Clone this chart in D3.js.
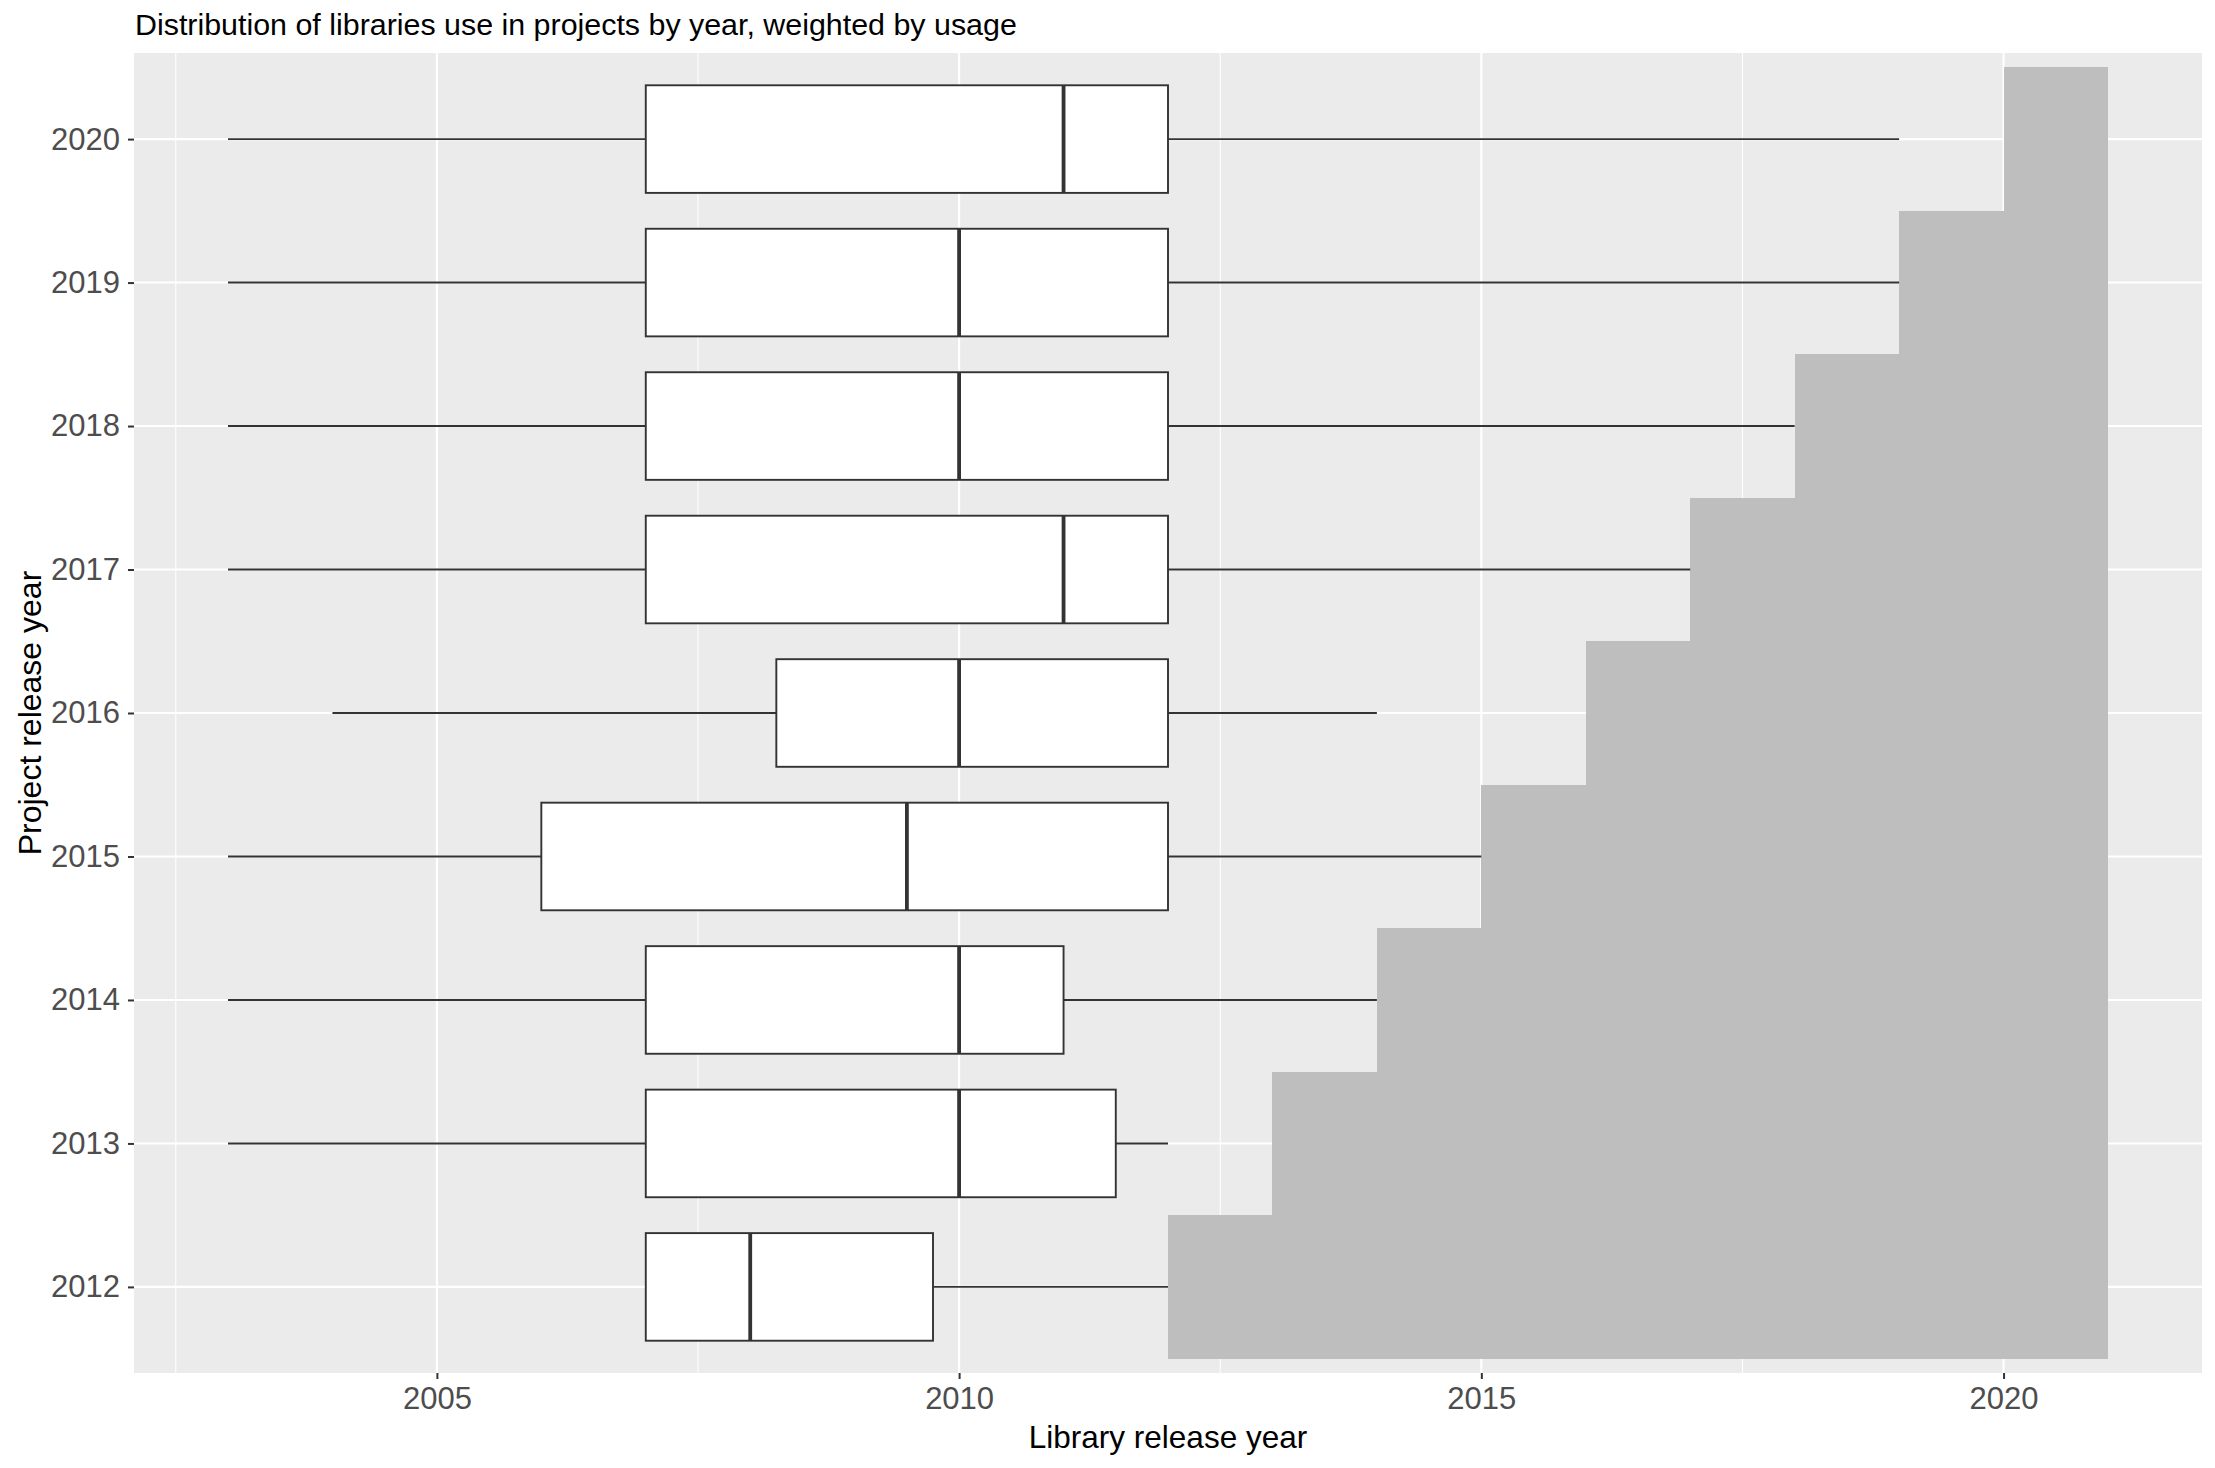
<!DOCTYPE html>
<html>
<head>
<meta charset="utf-8">
<script src="https://cdn.jsdelivr.net/npm/d3@7"></script>
<style>
  html, body { margin: 0; padding: 0; background: #ffffff; }
  svg { display: block; font-family: "Liberation Sans", Arial, sans-serif; }
</style>
</head>
<body>
<svg id="chart" width="2215" height="1468"></svg>
<script>
// ---- Data ----
const projectYears = [2012, 2013, 2014, 2015, 2016, 2017, 2018, 2019, 2020];
const whiskerLow   = [2007, 2003, 2003, 2003, 2004, 2003, 2003, 2003, 2003];
const q1           = [2007, 2007, 2007, 2006, 2008.25, 2007, 2007, 2007, 2007];
const medians      = [2008, 2010, 2010, 2009.5, 2010, 2011, 2010, 2010, 2011];
const q3           = [2009.75, 2011.5, 2011, 2012, 2012, 2012, 2012, 2012, 2012];
const whiskerHigh  = [2012, 2012, 2014, 2015, 2014, 2017, 2018, 2019, 2019];

// Grey "future" region: one step per project year
const stepX0  = [2012, 2013, 2014, 2015, 2016, 2017, 2018, 2019, 2020];
const stepX1  = [2013, 2014, 2015, 2016, 2017, 2018, 2019, 2020, 2021];
const stepTop = [2012.5, 2013.5, 2014.5, 2015.5, 2016.5, 2017.5, 2018.5, 2019.5, 2020.5];
const stepBottom = 2011.5;

const xMajorTicks = [2005, 2010, 2015, 2020];
const xMinorTicks = [2002.5, 2007.5, 2012.5, 2017.5];

const titleText = "Distribution of libraries use in projects by year, weighted by usage";
const xTitle = "Library release year";
const yTitle = "Project release year";

// ---- Layout ----
const panel = { left: 134, right: 2202, top: 53, bottom: 1373 };
const svg = d3.select("#chart");

const x = d3.scaleLinear().domain([2002.1, 2021.9]).range([panel.left, panel.right]);
const y = d3.scaleLinear().domain([2011.4, 2020.6]).range([panel.bottom, panel.top]);
const boxHalf = 0.375;

const rows = projectYears.map((yr, i) => ({
  yr, lo: whiskerLow[i], q1: q1[i], med: medians[i], q3: q3[i], hi: whiskerHigh[i]
}));
const steps = stepX0.map((x0, i) => ({ x0, x1: stepX1[i], top: stepTop[i] }));

// Panel background
svg.append("rect")
  .attr("x", panel.left).attr("y", panel.top)
  .attr("width", panel.right - panel.left).attr("height", panel.bottom - panel.top)
  .attr("fill", "#EBEBEB");

const grid = svg.append("g");
grid.selectAll(".xminor").data(xMinorTicks).join("line")
  .attr("x1", d => x(d)).attr("x2", d => x(d))
  .attr("y1", panel.top).attr("y2", panel.bottom)
  .attr("stroke", "#ffffff").attr("stroke-width", 1.05);
grid.selectAll(".xmajor").data(xMajorTicks).join("line")
  .attr("x1", d => x(d)).attr("x2", d => x(d))
  .attr("y1", panel.top).attr("y2", panel.bottom)
  .attr("stroke", "#ffffff").attr("stroke-width", 2.1);
grid.selectAll(".ymajor").data(projectYears).join("line")
  .attr("x1", panel.left).attr("x2", panel.right)
  .attr("y1", d => y(d)).attr("y2", d => y(d))
  .attr("stroke", "#ffffff").attr("stroke-width", 2.1);

// Grey steps
svg.append("g").selectAll("rect").data(steps).join("rect")
  .attr("x", d => x(d.x0))
  .attr("width", d => x(d.x1) - x(d.x0))
  .attr("y", d => y(d.top))
  .attr("height", d => y(stepBottom) - y(d.top))
  .attr("fill", "#BEBEBE")
  .attr("shape-rendering", "crispEdges");

// Boxplots
const bx = svg.append("g");
const stroke = "#333333";
const lw = 1.9;
rows.forEach(r => {
  const g = bx.append("g");
  if (r.lo < r.q1) {
    g.append("line").attr("x1", x(r.lo)).attr("x2", x(r.q1))
      .attr("y1", y(r.yr)).attr("y2", y(r.yr))
      .attr("stroke", stroke).attr("stroke-width", lw);
  }
  if (r.hi > r.q3) {
    g.append("line").attr("x1", x(r.q3)).attr("x2", x(r.hi))
      .attr("y1", y(r.yr)).attr("y2", y(r.yr))
      .attr("stroke", stroke).attr("stroke-width", lw);
  }
  g.append("rect")
    .attr("x", x(r.q1)).attr("width", x(r.q3) - x(r.q1))
    .attr("y", y(r.yr + boxHalf)).attr("height", y(r.yr - boxHalf) - y(r.yr + boxHalf))
    .attr("fill", "#ffffff").attr("stroke", stroke).attr("stroke-width", lw);
  g.append("line").attr("x1", x(r.med)).attr("x2", x(r.med))
    .attr("y1", y(r.yr + boxHalf)).attr("y2", y(r.yr - boxHalf))
    .attr("stroke", stroke).attr("stroke-width", 3.8);
});

// Axes
const tickFont = 31;
const xAxis = d3.axisBottom(x).tickValues(xMajorTicks).tickFormat(d3.format("d"))
  .tickSize(6).tickPadding(8);
const gx = svg.append("g").attr("transform", `translate(0,${panel.bottom})`).call(xAxis);
gx.select(".domain").remove();
gx.selectAll(".tick line").attr("stroke", stroke).attr("stroke-width", 2);
gx.selectAll(".tick text").attr("fill", "#4D4D4D")
  .style("font-size", tickFont + "px").style("font-family", '"Liberation Sans", Arial, sans-serif');

const yAxis = d3.axisLeft(y).tickValues(projectYears).tickFormat(d3.format("d"))
  .tickSize(6).tickPadding(8);
const gy = svg.append("g").attr("transform", `translate(${panel.left},0)`).call(yAxis);
gy.select(".domain").remove();
gy.selectAll(".tick line").attr("stroke", stroke).attr("stroke-width", 2);
gy.selectAll(".tick text").attr("fill", "#4D4D4D")
  .style("font-size", tickFont + "px").style("font-family", '"Liberation Sans", Arial, sans-serif');

// Titles
svg.append("text")
  .attr("x", 135).attr("y", 35)
  .attr("fill", "#000000")
  .style("font-size", "30.4px")
  .text(titleText);

svg.append("text")
  .attr("x", (panel.left + panel.right) / 2).attr("y", 1448)
  .attr("text-anchor", "middle")
  .attr("fill", "#000000")
  .style("font-size", "31.5px")
  .text(xTitle);

svg.append("text")
  .attr("transform", `translate(41,${(panel.top + panel.bottom) / 2}) rotate(-90)`)
  .attr("text-anchor", "middle")
  .attr("fill", "#000000")
  .style("font-size", "32px")
  .text(yTitle);
</script>
</body>
</html>
